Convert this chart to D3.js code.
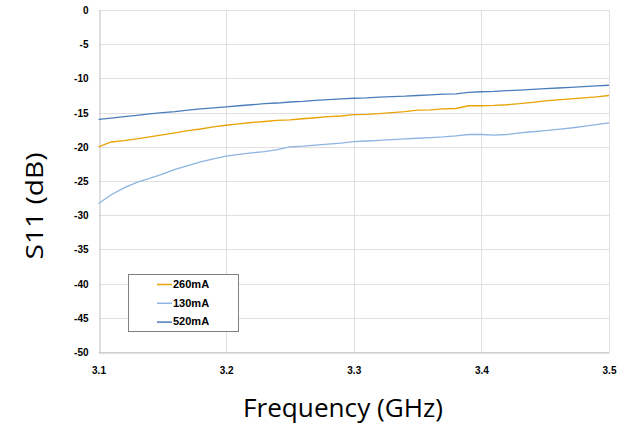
<!DOCTYPE html>
<html><head><meta charset="utf-8">
<script src="https://cdn.jsdelivr.net/npm/d3@7"></script>
<style>html,body{margin:0;padding:0;background:#fff;}svg{display:block;}</style>
</head><body>
<svg id="c" width="629" height="429"></svg>
<script>
const freqs = [3.10,3.11,3.12,3.13,3.14,3.15,3.16,3.17,3.18,3.19,3.20,3.21,3.22,3.23,3.24,3.25,3.26,3.27,3.28,3.29,3.30,3.31,3.32,3.33,3.34,3.35,3.36,3.37,3.38,3.39,3.40,3.41,3.42,3.43,3.44,3.45,3.46,3.47,3.48,3.49,3.50];
const s260 = [-20.0,-19.3,-19.1,-18.85,-18.55,-18.25,-17.95,-17.65,-17.4,-17.1,-16.85,-16.65,-16.45,-16.3,-16.15,-16.05,-15.9,-15.75,-15.6,-15.5,-15.3,-15.25,-15.15,-15.0,-14.85,-14.65,-14.6,-14.45,-14.4,-14.0,-14.0,-13.95,-13.85,-13.7,-13.5,-13.3,-13.15,-13.0,-12.85,-12.7,-12.5];
const s130 = [-28.3,-27.0,-26.0,-25.2,-24.6,-24.0,-23.3,-22.75,-22.2,-21.75,-21.35,-21.1,-20.9,-20.7,-20.4,-20.0,-19.9,-19.75,-19.6,-19.45,-19.25,-19.15,-19.05,-18.95,-18.85,-18.75,-18.65,-18.55,-18.4,-18.2,-18.2,-18.3,-18.2,-17.95,-17.8,-17.65,-17.45,-17.25,-17.0,-16.75,-16.5];
const s520 = [-16.0,-15.8,-15.6,-15.4,-15.2,-15.0,-14.85,-14.65,-14.45,-14.3,-14.15,-14.0,-13.85,-13.7,-13.6,-13.45,-13.35,-13.2,-13.1,-13.0,-12.9,-12.85,-12.75,-12.65,-12.6,-12.5,-12.4,-12.3,-12.25,-12.05,-11.95,-11.9,-11.8,-11.7,-11.6,-11.5,-11.4,-11.3,-11.2,-11.1,-11.0];
const seriesNames = ["260mA","130mA","520mA"];
const seriesColors = ["#e8a305","#8db4e2","#4a7ebb"];
const xTicks = [3.1,3.2,3.3,3.4,3.5];
const yTicks = [0,-5,-10,-15,-20,-25,-30,-35,-40,-45,-50];
const xTitle = "Frequency (GHz)";
const yTitle = "S11 (dB)";

const svg = d3.select("#c");
const L=98.5, R=609, T=10, B=352;
const x = d3.scaleLinear().domain([3.1,3.5]).range([L,R]);
const y = d3.scaleLinear().domain([-50,0]).range([B,T]);

// gridlines
svg.append("g").selectAll("line").data(yTicks).join("line")
  .attr("x1",L).attr("x2",R).attr("y1",d=>Math.round(y(d))+0.5).attr("y2",d=>Math.round(y(d))+0.5)
  .attr("stroke","#e0e0e0").attr("stroke-width",1);
svg.append("g").selectAll("line").data(xTicks.slice(1)).join("line")
  .attr("y1",T).attr("y2",B).attr("x1",d=>Math.round(x(d))+0.5).attr("x2",d=>Math.round(x(d))+0.5)
  .attr("stroke","#e0e0e0").attr("stroke-width",1);

// axes
const xAxis = d3.axisBottom(x).tickValues(xTicks).tickSize(0).tickFormat(d=>d.toFixed(1));
const gx = svg.append("g").attr("transform",`translate(0,${Math.round(B)+0.5})`).call(xAxis);
gx.select(".domain").attr("stroke","#c0c0c0");
gx.selectAll("text").attr("dy",0).attr("y",21).attr("font-family","Liberation Sans, Arial, sans-serif")
  .attr("font-weight","bold").attr("font-size","10px").attr("fill","#000");

const yAxis = d3.axisLeft(y).tickValues(yTicks).tickSize(0).tickFormat(d=>String(d));
const gy = svg.append("g").attr("transform",`translate(${Math.round(L)+0.5},0)`).call(yAxis);
gy.select(".domain").attr("stroke","#c0c0c0");
gy.selectAll("text").attr("x",-11).attr("dy","0.35em").attr("font-family","Liberation Sans, Arial, sans-serif")
  .attr("font-weight","bold").attr("font-size","10px").attr("fill","#000");

// lines
const allSeries = [s260,s130,s520];
const line = d3.line().x((d,i)=>x(freqs[i])).y(d=>y(d));
allSeries.forEach((s,k)=>{
  svg.append("path").datum(s).attr("d",line).attr("fill","none")
    .attr("stroke",seriesColors[k]).attr("stroke-width",1.3);
});

// legend
const lg = svg.append("g");
lg.append("rect").attr("x",128.5).attr("y",274.5).attr("width",110).attr("height",57)
  .attr("fill","#fff").attr("stroke","#808080").attr("stroke-width",1);
seriesNames.forEach((n,k)=>{
  const yy = 284 + k*18.8;
  lg.append("line").attr("x1",157).attr("x2",172).attr("y1",yy+0.5).attr("y2",yy+0.5)
    .attr("stroke",seriesColors[k]).attr("stroke-width",1.5);
  lg.append("text").attr("x",173).attr("y",yy).attr("dy","0.35em")
    .attr("font-family","Liberation Sans, Arial, sans-serif").attr("font-weight","bold")
    .attr("font-size","11px").attr("fill","#000").text(n);
});

// titles
svg.append("text").attr("x",343).attr("y",417).attr("text-anchor","middle")
  .attr("font-family","Open Sans, Noto Sans, sans-serif").attr("font-size","25px").attr("fill","#000")
  .attr("textLength",200).attr("lengthAdjust","spacingAndGlyphs").text(xTitle);
svg.append("text").attr("transform","translate(43,206) rotate(-90)").attr("text-anchor","middle")
  .attr("font-family","Open Sans, Noto Sans, sans-serif").attr("font-size","24px").attr("fill","#000")
  .attr("textLength",107).attr("lengthAdjust","spacingAndGlyphs").text(yTitle);
</script>
</body></html>
